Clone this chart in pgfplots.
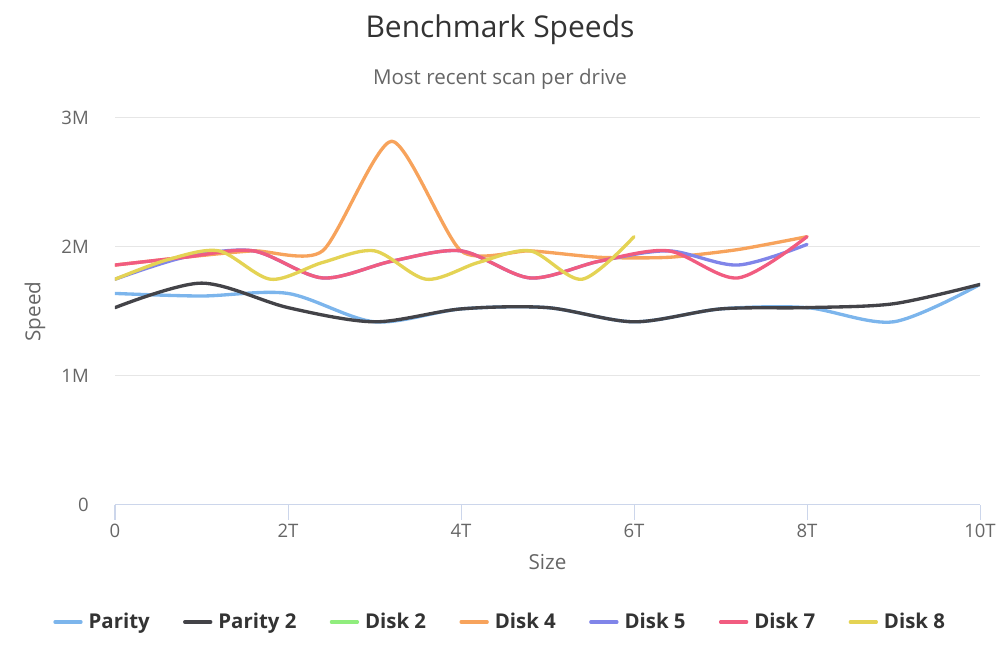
\documentclass[border=0pt]{standalone}
\usepackage{pgfplots}
\pgfplotsset{compat=1.18}
\usepackage{fontspec}
\setmainfont{Open Sans}
\definecolor{cParity}{HTML}{7CB5EC}
\definecolor{cParityB}{HTML}{434348}
\definecolor{cDiskB}{HTML}{90ED7D}
\definecolor{cDiskD}{HTML}{F7A35C}
\definecolor{cDiskE}{HTML}{8085E9}
\definecolor{cDiskG}{HTML}{F15C80}
\definecolor{cDiskH}{HTML}{E4D354}
\definecolor{textcol}{HTML}{333333}
\definecolor{labelcol}{HTML}{666666}
\definecolor{gridcol}{HTML}{E6E6E6}
\definecolor{axiscol}{HTML}{CCD6EB}
\begin{document}
\begin{tikzpicture}
\useasboundingbox (0,0) rectangle (750pt,500.25pt);
\begin{axis}[
  at={(86.25pt,121.5pt)}, anchor=south west,
  scale only axis, width=648.75pt, height=290.25pt,
  xmin=0, xmax=10, ymin=0, ymax=3,
  xtick={0,2,4,6,8,10}, xticklabels={0,2T,4T,6T,8T,10T},
  ytick={0,1,2,3}, yticklabels={0,1M,2M,3M},
  ymajorgrids, grid style={gridcol, line width=0.75pt},
  axis line style={draw=none},
  xtick pos=bottom, ytick pos=left,
  tick align=outside, major tick length=11.25pt,
  xtick style={axiscol, line width=0.75pt},
  ytick style={draw=none},
  ticklabel style={font=\fontsize{13.9}{16}\selectfont, text=labelcol},
  yticklabel style={anchor=east, inner sep=0pt, xshift=-8.25pt},
  xticklabel style={anchor=north, inner sep=0pt, yshift=-3pt},
  xlabel={Size}, ylabel={Speed},
  every axis x label/.style={at={(rel axis cs:0.5,0)}, yshift=-42.75pt, anchor=center, font=\fontsize{15.5}{18}\selectfont, text=labelcol},
  every axis y label/.style={at={(rel axis cs:0,0.5)}, xshift=-60pt, rotate=90, anchor=center, font=\fontsize{15.5}{18}\selectfont, text=labelcol},
  legend columns=7,
  legend style={draw=none, fill=none, at={(0.4457,-0.3023)}, anchor=center,
    font=\fontsize{15.3}{18}\selectfont\bfseries, text=textcol,
    /tikz/every odd column/.append style={column sep=2.5pt},
    /tikz/every even column/.append style={column sep=23pt}},
  legend image code/.code={\draw[#1, line width=2.5pt] (0pt,0pt) -- (19.5pt,0pt);},
  every axis plot/.append style={line width=2.5pt, line cap=round, line join=round, smooth, tension=0.5},
  after end axis/.code={\draw[axiscol, line width=0.75pt] (rel axis cs:0,0) -- (rel axis cs:1,0);},
]
\addplot[cParity] coordinates {(0,1.64)(1,1.62)(2,1.64)(3,1.42)(4,1.52)(5,1.53)(6,1.42)(7,1.52)(8,1.53)(9,1.42)(10,1.71)};
\addlegendentry{Parity}
\addplot[cParityB] coordinates {(0,1.53)(1,1.72)(2,1.53)(3,1.42)(4,1.52)(5,1.53)(6,1.42)(7,1.52)(8,1.53)(9,1.56)(10,1.71)};
\addlegendentry{Parity 2}
\addlegendimage{cDiskB}
\addlegendentry{Disk 2}
\addplot[cDiskD, tension=0.4] coordinates {(0,1.86)(0.8,1.92)(1.6,1.97)(2.4,1.97)(3.2,2.82)(4.0,1.97)(4.8,1.97)(5.6,1.92)(6.4,1.92)(7.2,1.98)(8.0,2.08)};
\addlegendentry{Disk 4}
\addplot[cDiskE] coordinates {(0,1.75)(0.8,1.92)(1.6,1.97)(2.4,1.76)(3.2,1.89)(4.0,1.97)(4.8,1.76)(5.6,1.89)(6.4,1.97)(7.2,1.86)(8.0,2.02)};
\addlegendentry{Disk 5}
\addplot[cDiskG] coordinates {(0,1.86)(0.8,1.92)(1.6,1.97)(2.4,1.76)(3.2,1.89)(4.0,1.97)(4.8,1.76)(5.6,1.89)(6.4,1.97)(7.2,1.76)(8.0,2.08)};
\addlegendentry{Disk 7}
\addplot[cDiskH] coordinates {(0,1.75)(0.6,1.90)(1.2,1.97)(1.8,1.75)(2.4,1.88)(3.0,1.97)(3.6,1.75)(4.2,1.88)(4.8,1.97)(5.4,1.75)(6.0,2.08)};
\addlegendentry{Disk 8}
\end{axis}
\node[anchor=center, text=textcol, font=\fontsize{22.5}{26}\selectfont] at (375pt,477.75pt) {Benchmark Speeds};
\node[anchor=center, text=labelcol, font=\fontsize{15.4}{18}\selectfont] at (375pt,441pt) {Most recent scan per drive};
\end{tikzpicture}
\end{document}
